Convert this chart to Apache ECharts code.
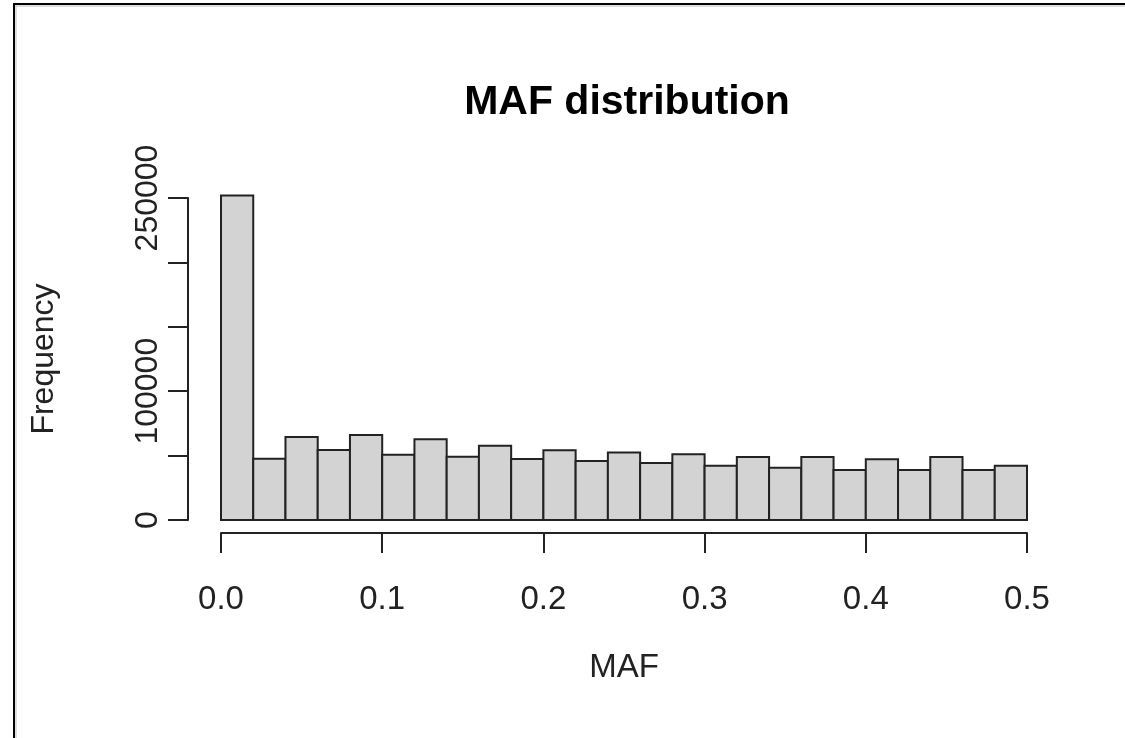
<!DOCTYPE html>
<html>
<head>
<meta charset="utf-8">
<script src="https://cdn.jsdelivr.net/npm/echarts@6/dist/echarts.min.js"></script>
<style>
html,body{margin:0;padding:0;background:#fff;}
#chart{width:1125px;height:738px;}
</style>
</head>
<body>
<div id="chart"></div>
<script>
// Histogram bins (MAF), lower edges and upper edges
var binStart = [0.00,0.02,0.04,0.06,0.08,0.10,0.12,0.14,0.16,0.18,0.20,0.22,0.24,0.26,0.28,0.30,0.32,0.34,0.36,0.38,0.40,0.42,0.44,0.46,0.48];
var binEnd   = [0.02,0.04,0.06,0.08,0.10,0.12,0.14,0.16,0.18,0.20,0.22,0.24,0.26,0.28,0.30,0.32,0.34,0.36,0.38,0.40,0.42,0.44,0.46,0.48,0.50];
var counts   = [252000,47600,64400,54300,66000,50700,62600,49200,57700,47400,54100,45800,52500,44300,51000,42200,48900,40600,48900,38800,47100,38800,48900,38800,42200];
var yTickLabels = [0, 100000, 250000];
var xTickLabels = ['0.0','0.1','0.2','0.3','0.4','0.5'];

var FONT = '"Liberation Sans", Arial, sans-serif';
var chart = echarts.init(document.getElementById('chart'));

var data = binStart.map(function(s, i){ return [s, binEnd[i], counts[i]]; });

chart.setOption({
  animation: false,
  backgroundColor: '#ffffff',
  title: {
    text: 'MAF distribution',
    left: 622, top: 77, textAlign: 'center',
    textStyle: {fontFamily: FONT, fontSize: 41, fontWeight: 'bold', color: '#000'}
  },
  grid: {left: 221, right: 98, top: 198, bottom: 218},
  xAxis: {
    type: 'value', min: 0, max: 0.5, interval: 0.1, offset: 13,
    name: 'MAF', nameLocation: 'middle', nameGap: 118,
    nameTextStyle: {fontFamily: FONT, fontSize: 33, color: '#222'},
    axisLine: {show: true, onZero: false, lineStyle: {color: '#222', width: 2}},
    axisTick: {show: true, length: 20, lineStyle: {color: '#222', width: 2}},
    axisLabel: {margin: 50, fontFamily: FONT, fontSize: 33, color: '#222',
      formatter: function(v){ var i = Math.round(v*10); return xTickLabels[i] || ''; }},
    splitLine: {show: false}
  },
  yAxis: {
    type: 'value', min: 0, max: 250000, interval: 50000, offset: 33,
    name: 'Frequency', nameLocation: 'middle', nameGap: 128,
    nameTextStyle: {fontFamily: FONT, fontSize: 32, color: '#222'},
    axisLine: {show: true, onZero: false, lineStyle: {color: '#222', width: 2}},
    axisTick: {show: true, length: 20, lineStyle: {color: '#222', width: 2}},
    axisLabel: {rotate: 90, margin: 24, fontFamily: FONT, fontSize: 32, color: '#222',
      formatter: function(v){ return yTickLabels.indexOf(v) >= 0 ? String(v) : ''; }},
    splitLine: {show: false}
  },
  series: [{
    type: 'custom',
    clip: false,
    data: data,
    encode: {x: [0, 1], y: 2},
    renderItem: function(params, api){
      var p0 = api.coord([api.value(0), api.value(2)]);
      var p1 = api.coord([api.value(1), 0]);
      return {
        type: 'rect',
        shape: {x: p0[0], y: p0[1], width: p1[0]-p0[0], height: p1[1]-p0[1]},
        style: {fill: '#d3d3d3', stroke: '#222', lineWidth: 2}
      };
    }
  }],
  graphic: [
    {type: 'line', shape: {x1: 13, y1: 4, x2: 1125, y2: 4}, style: {stroke: '#000', lineWidth: 2}},
    {type: 'line', shape: {x1: 14, y1: 6, x2: 1125, y2: 6}, style: {stroke: '#bbb', lineWidth: 1}},
    {type: 'line', shape: {x1: 14, y1: 4, x2: 14, y2: 738}, style: {stroke: '#000', lineWidth: 2}},
    {type: 'line', shape: {x1: 16, y1: 6, x2: 16, y2: 738}, style: {stroke: '#bbb', lineWidth: 1}}
  ]
});
</script>
</body>
</html>
